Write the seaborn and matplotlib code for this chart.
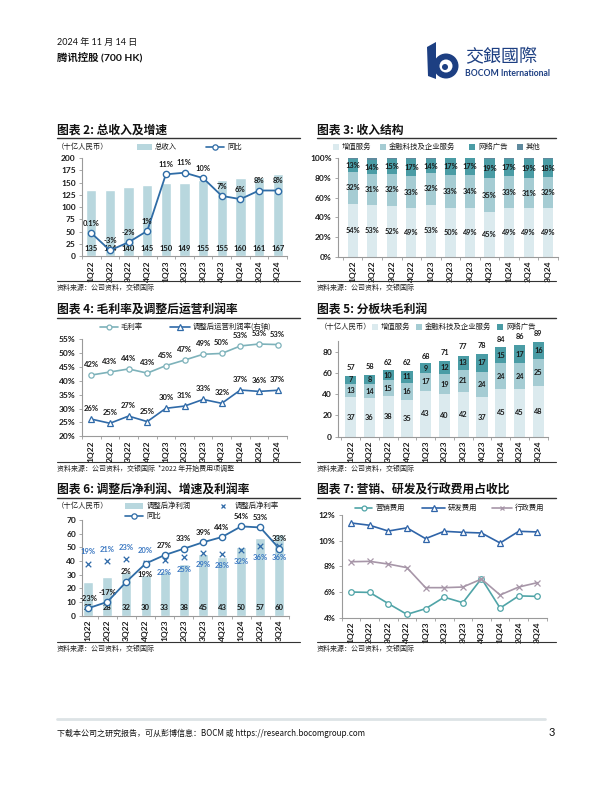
import numpy as np
import matplotlib
matplotlib.use('Agg')
import matplotlib.pyplot as plt
import matplotlib.patches as mpatches
import seaborn as sns

# ---------------- data ----------------
quarters = ['1Q22', '2Q22', '3Q22', '4Q22', '1Q23', '2Q23', '3Q23', '4Q23', '1Q24', '2Q24', '3Q24']

total_rev = [135, 134, 140, 145, 150, 149, 155, 155, 160, 161, 167]
rev_yoy = [0.1, -3.1, -1.6, 0.5, 11.0, 11.3, 10.3, 7.0, 6.4, 8.0, 8.0]
rev_yoy_labels = ['0.1%', '-3%', '-2%', '1%', '11%', '11%', '10%', '7%', '6%', '8%', '8%']

vas_share = [54, 53, 52, 49, 53, 50, 49, 45, 49, 49, 49]
fbs_share = [32, 31, 32, 33, 32, 33, 34, 35, 33, 31, 32]
ads_share = [13, 14, 15, 17, 14, 17, 17, 19, 17, 19, 18]
oth_share = [1, 2, 1, 1, 1, 1, 1, 1, 1, 1, 1]

gross_margin = [42.1, 43.2, 44.3, 42.8, 45.5, 47.5, 49.6, 49.9, 52.6, 53.3, 53.1]
gross_margin_labels = ['42%', '43%', '44%', '43%', '45%', '47%', '49%', '50%', '53%', '53%', '53%']
op_margin = [26.2, 24.7, 27.3, 25.3, 30.1, 30.9, 33.3, 31.9, 36.7, 36.2, 36.6]
op_margin_labels = ['26%', '25%', '27%', '25%', '30%', '31%', '33%', '32%', '37%', '36%', '37%']

gp_vas = [37, 36, 38, 35, 43, 40, 42, 37, 45, 45, 48]
gp_fbs = [13, 14, 15, 16, 17, 19, 21, 24, 24, 24, 25]
gp_ads = [7, 8, 10, 11, 9, 12, 13, 17, 15, 17, 16]
gp_total = [57, 58, 62, 62, 68, 71, 77, 78, 84, 86, 89]

net_profit = [25, 28, 32, 30, 33, 38, 45, 43, 50, 57, 60]
net_margin = [19, 21, 23, 20, 22, 25, 29, 28, 32, 36, 36]
np_yoy = [-23, -17, 2, 19, 27, 33, 39, 44, 54, 53, 33]

mkt_ratio = [6.0, 5.97, 5.1, 4.26, 4.7, 5.6, 5.17, 7.05, 4.75, 5.7, 5.66]
rd_ratio = [11.38, 11.2, 10.75, 11.0, 10.16, 10.73, 10.65, 10.6, 9.82, 10.73, 10.68]
adm_ratio = [8.36, 8.39, 8.18, 7.9, 6.34, 6.34, 6.39, 7.01, 5.77, 6.39, 6.73]

# ---------------- style ----------------
sns.set_theme(style='white')
plt.rcParams['font.family'] = ['Lato', 'Noto Sans CJK SC', 'DejaVu Sans']
plt.rcParams['axes.unicode_minus'] = False
CJK = ['Noto Sans CJK SC', 'DejaVu Sans']

BAR = '#b8d7de'
LINE_BLUE = '#2f6ca6'
VAS_C = '#dbeaee'
FBS_C = '#a5ccd3'
ADS_C = '#4a9ca5'
OTH_C = '#5f8a9e'
GM_C = '#7db2ba'
OPM_C = '#2f6aa8'
MKT_C = '#4fa4a7'
RD_C = '#2f64a8'
ADM_C = '#a796a8'
TXT = '#1a1a1a'
SPINE = '#9a9a9a'
NAVY = '#1d3f82'

W, H = 612, 792
fig = plt.figure(figsize=(6.12, 7.92), dpi=100)


def px_axes(l, t, r, b):
    return fig.add_axes([l / W, 1 - b / H, (r - l) / W, (b - t) / H])


ov = fig.add_axes([0, 0, 1, 1], zorder=10)
ov.set_xlim(0, W)
ov.set_ylim(H, 0)
ov.axis('off')
ov.patch.set_alpha(0)

xpos = np.arange(len(quarters))


def style_axes(ax, xlim):
    for s in ['top', 'right']:
        ax.spines[s].set_visible(False)
    for s in ['left', 'bottom']:
        ax.spines[s].set_color(SPINE)
        ax.spines[s].set_linewidth(0.8)
    ax.set_xlim(*xlim)
    ax.set_xticks(xpos)
    ax.set_xticklabels(quarters, rotation=90)
    ax.set_xticks(np.arange(-0.5, len(quarters), 1), minor=True)
    ax.tick_params(axis='x', which='major', length=0, pad=3, labelsize=6, colors=TXT)
    ax.tick_params(axis='x', which='minor', bottom=True, length=2.5, width=0.6, color=SPINE)
    ax.tick_params(axis='y', left=True, length=2.5, width=0.6, color=SPINE, pad=2,
                   labelsize=6, labelcolor=TXT)
    for lbl in ax.get_xticklabels() + ax.get_yticklabels():
        lbl.set_fontweight('bold')
    ax.set_xlabel('')
    ax.set_ylabel('')
    ax.grid(False)


def header_block(x0, x1, ytitle, title, ysep, source):
    ov.text(x0, ytitle, title, fontsize=8.5, fontweight='bold', family=CJK, va='center', color='#111')
    ov.plot([x0, x1], [ytitle + 8, ytitle + 8], color='#333', lw=1.0)
    ov.plot([x0, x1], [ysep, ysep], color='#333', lw=0.8)
    ov.text(x0, ysep + 7, source, fontsize=5, family=CJK, va='center', color='#222', style='italic')


def leg_rect(x, y, w, h, color, text, tx=None):
    ov.add_patch(mpatches.Rectangle((x, y - h / 2), w, h, color=color, lw=0))
    ov.text(x + w + 3 if tx is None else tx, y, text, fontsize=5.3, family=CJK, va='center', color=TXT)


def leg_line(x0, x1, y, color, marker, text, mfc='white', ms=3.5, lw=1.2):
    ov.plot([x0, x1], [y, y], color=color, lw=lw)
    ov.plot([(x0 + x1) / 2], [y], marker=marker, color=color, mfc=mfc, mec=color, ms=ms, mew=0.9)
    ov.text(x1 + 3, y, text, fontsize=5.3, family=CJK, va='center', color=TXT)


def val(ax, x, y, s, dy=0, va='center', color=TXT, fs=5.5):
    ax.annotate(s, (x, y), xytext=(0, dy), textcoords='offset points', ha='center', va=va,
                fontsize=fs, fontweight='bold', color=color, annotation_clip=False)


# ---------------- header ----------------
ov.text(57, 42, '2024 年 11 月 14 日', fontsize=6.5, family=['Lato', 'Noto Sans CJK SC'], va='center', color='#111')
ov.text(57, 57, '腾讯控股 (700 HK)', fontsize=7.5, fontweight='bold', family=['Lato', 'Noto Sans CJK SC'],
        va='center', color='#111')
# logo
ov.add_patch(mpatches.Polygon([(427, 47), (436, 42), (436, 79), (428, 76)], closed=True, color=NAVY, lw=0))
ov.add_patch(mpatches.Circle((446, 66), 12.5, color=NAVY, lw=0))
ov.add_patch(mpatches.Circle((446, 66), 6.5, color='white', lw=0))
ov.add_patch(mpatches.Circle((445, 67), 3.0, color=NAVY, lw=0))
ov.text(465, 57, '交銀國際', fontsize=13, family=['Noto Sans CJK TC', 'DejaVu Sans'], va='center', color=NAVY)
ov.text(465, 74, 'BOCOM International', fontsize=6.2, fontweight='bold', family=['Lato'], va='center', color=NAVY)

# ---------------- chart 2 ----------------
header_block(57, 300, 130, '图表 2: 总收入及增速', 281, '资料来源：公司资料，交银国际')
ax = px_axes(82, 158, 287, 256)
sns.barplot(x=quarters, y=total_rev, ax=ax, color=BAR, width=0.55, saturation=1)
ax.set_ylim(0, 200)
ax.set_yticks(np.arange(0, 201, 25))
style_axes(ax, (-0.5, 10.5))
ax2 = ax.twinx()
sns.lineplot(x=xpos, y=rev_yoy, ax=ax2, color=LINE_BLUE, lw=1.3, marker='o', markersize=4.5,
             markerfacecolor='white', markeredgecolor=LINE_BLUE, markeredgewidth=1.0)
ax2.set_ylim(-4.15, 14.03)
ax2.axis('off')
ax2.set_xlim(-0.5, 10.5)
for i, v in enumerate(total_rev):
    val(ax, i, 16, f'{v}')
for i, (v, lab) in enumerate(zip(rev_yoy, rev_yoy_labels)):
    val(ax2, i, v, lab, dy=4.5, va='bottom')
ov.text(57, 147, '（十亿人民币）', fontsize=5.3, family=CJK, va='center', color=TXT)
leg_rect(137, 147, 15, 6, BAR, '总收入')
leg_line(206, 224, 147, LINE_BLUE, 'o', '同比', ms=3.8)

# ---------------- chart 3 ----------------
header_block(317, 556, 130, '图表 3: 收入结构', 281, '资料来源：公司资料，交银国际')
ax = px_axes(338, 158.3, 558, 256.7)
bottom = np.zeros(len(quarters))
for vals, col in [(vas_share, VAS_C), (fbs_share, FBS_C), (ads_share, ADS_C), (oth_share, OTH_C)]:
    ax.bar(xpos, vals, bottom=bottom, width=0.52, color=col, lw=0)
    if col != OTH_C:
        for i, v in enumerate(vals):
            val(ax, i, bottom[i] + v / 2, f'{v}%', fs=5.3)
    bottom = bottom + np.array(vals)
ax.set_ylim(0, 100)
ax.set_yticks(np.arange(0, 101, 20))
ax.set_yticklabels([f'{t}%' for t in range(0, 101, 20)])
style_axes(ax, (-0.75, 10.5))
leg_rect(333, 147, 6, 6, VAS_C, '增值服务')
leg_rect(380, 147, 6, 6, FBS_C, '金融科技及企业服务')
leg_rect(469, 147, 6, 6, ADS_C, '网络广告')
leg_rect(517, 147, 6, 6, OTH_C, '其他')

# ---------------- chart 4 ----------------
header_block(57, 300, 310, '图表 4: 毛利率及调整后运营利润率', 462, '资料来源：公司资料，交银国际  *2022 年开始费用项调整')
ax = px_axes(82, 339.3, 287, 436.3)
sns.lineplot(x=xpos, y=gross_margin, ax=ax, color=GM_C, lw=1.2, marker='o', markersize=3.8,
             markerfacecolor='white', markeredgecolor=GM_C, markeredgewidth=0.9)
sns.lineplot(x=xpos, y=op_margin, ax=ax, color=OPM_C, lw=1.2, marker='^', markersize=4.2,
             markerfacecolor='white', markeredgecolor=OPM_C, markeredgewidth=0.9)
ax.set_ylim(20, 55)
ax.set_yticks(np.arange(20, 56, 5))
ax.set_yticklabels([f'{t}%' for t in range(20, 56, 5)])
style_axes(ax, (-0.5, 10.5))
for i, (v, lab) in enumerate(zip(gross_margin, gross_margin_labels)):
    val(ax, i, v, lab, dy=5, va='bottom')
for i, (v, lab) in enumerate(zip(op_margin, op_margin_labels)):
    val(ax, i, v, lab, dy=5, va='bottom')
leg_line(100, 118, 327, GM_C, 'o', '毛利率')
leg_line(170, 190, 327, OPM_C, '^', '调整后运营利润率(右轴)', ms=4)

# ---------------- chart 5 ----------------
header_block(317, 556, 310, '图表 5: 分板块毛利润', 462, '资料来源：公司资料，交银国际')
ax = px_axes(338.3, 341.1, 547.7, 436.7)
bottom = np.zeros(len(quarters))
for vals, col in [(gp_vas, VAS_C), (gp_fbs, FBS_C), (gp_ads, ADS_C)]:
    ax.bar(xpos, vals, bottom=bottom, width=0.6, color=col, lw=0)
    for i, v in enumerate(vals):
        val(ax, i, bottom[i] + v / 2, f'{v}', fs=5.3)
    bottom = bottom + np.array(vals)
for i, v in enumerate(gp_total):
    val(ax, i, v, f'{v}', dy=3.5, va='bottom', fs=5.3)
ax.set_ylim(0, 90)
ax.set_yticks(np.arange(0, 81, 20))
style_axes(ax, (-0.66, 10.5))
ov.text(320, 327, '（十亿人民币）', fontsize=5.3, family=CJK, va='center', color=TXT)
leg_rect(372, 327, 6, 6, VAS_C, '增值服务')
leg_rect(416, 327, 6, 6, FBS_C, '金融科技及企业服务')
leg_rect(497, 327, 6, 6, ADS_C, '网络广告')

# ---------------- chart 6 ----------------
header_block(57, 300, 490, '图表 6: 调整后净利润、增速及利润率', 642, '资料来源：公司资料，交银国际')
ax = px_axes(82.3, 520, 288.9, 615.7)
sns.barplot(x=quarters, y=net_profit, ax=ax, color=BAR, width=0.52, saturation=1)
ax.set_ylim(0, 70)
ax.set_yticks(np.arange(0, 71, 10))
style_axes(ax, (-0.31, 10.5))
for i, v in enumerate(net_profit):
    val(ax, i, 6, f'{v}')
ax2 = ax.twinx()
sns.scatterplot(x=xpos, y=net_margin, ax=ax2, marker='x', color=OPM_C, s=16, linewidth=0.9, zorder=3)
sns.lineplot(x=xpos, y=np_yoy, ax=ax2, color=LINE_BLUE, lw=1.3, marker='o', markersize=4.5,
             markerfacecolor='white', markeredgecolor=LINE_BLUE, markeredgewidth=1.0, zorder=4)
ax2.set_ylim(-30, 60)
ax2.set_xlim(-0.31, 10.5)
ax2.axis('off')
for i, v in enumerate(net_margin):
    if i < 4:
        val(ax2, i, v, f'{v}%', dy=6, va='bottom', color='#3b78c2')
    else:
        val(ax2, i, v, f'{v}%', dy=-6, va='top', color='#3b78c2')
for i, v in enumerate(np_yoy):
    if i == 3:
        val(ax2, i, v, f'{v}%', dy=-5, va='top')
    else:
        val(ax2, i, v, f'{v}%', dy=4.5, va='bottom')
ov.text(57, 506, '（十亿人民币）', fontsize=5.3, family=CJK, va='center', color=TXT)
leg_rect(125, 506, 18, 6, BAR, '调整后净利润', tx=147)
ov.plot([223], [506], marker='x', color=OPM_C, ms=3.5, mew=0.9)
ov.text(235, 506, '调整后净利率', fontsize=5.3, family=CJK, va='center', color=TXT)
leg_line(125, 143, 516, LINE_BLUE, 'o', '同比', ms=3.8)

# ---------------- chart 7 ----------------
header_block(317, 556, 490, '图表 7: 营销、研发及行政费用占收比', 642, '资料来源：公司资料，交银国际')
ax = px_axes(341.7, 515, 546.7, 617.7)
sns.lineplot(x=xpos, y=mkt_ratio, ax=ax, color=MKT_C, lw=1.2, marker='o', markersize=4,
             markerfacecolor='white', markeredgecolor=MKT_C, markeredgewidth=0.9)
sns.lineplot(x=xpos, y=rd_ratio, ax=ax, color=RD_C, lw=1.2, marker='^', markersize=4.2,
             markerfacecolor='white', markeredgecolor=RD_C, markeredgewidth=0.9)
sns.lineplot(x=xpos, y=adm_ratio, ax=ax, color=ADM_C, lw=1.2, marker='x', markersize=4,
             markeredgecolor=ADM_C, markeredgewidth=0.9)
ax.set_ylim(4, 12)
ax.set_yticks(np.arange(4, 13, 2))
ax.set_yticklabels([f'{t}%' for t in range(4, 13, 2)])
style_axes(ax, (-0.44, 10.5))
leg_line(355, 372, 507.7, MKT_C, 'o', '营销费用')
leg_line(422, 445, 507.7, RD_C, '^', '研发费用', ms=4)
leg_line(492, 512, 507.7, ADM_C, 'x', '行政费用', mfc=ADM_C)

# ---------------- footer ----------------
ov.plot([57, 545], [719, 719], color='#dde3e6', lw=2)
ov.text(57, 733, '下载本公司之研究报告，可从彭博信息：BOCM 或 https://research.bocomgroup.com',
        fontsize=5.8, family=['Noto Sans CJK SC', 'DejaVu Sans'], va='center', color='#111')
ov.text(549, 733, '3', fontsize=8, va='center', color='#111')

fig.savefig('out.png', dpi=100)
